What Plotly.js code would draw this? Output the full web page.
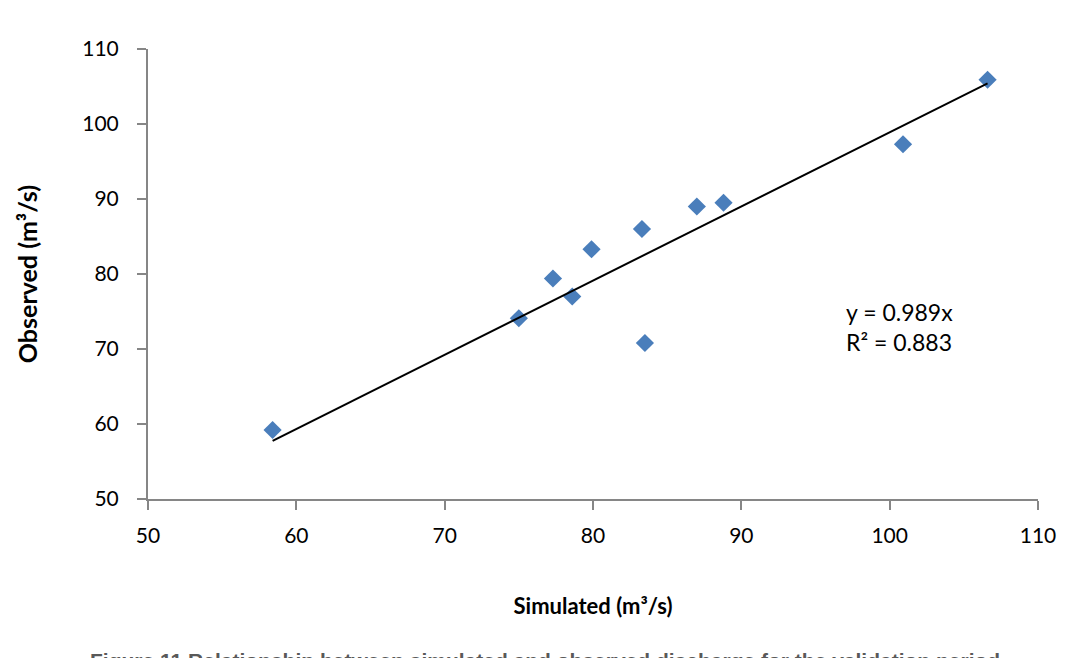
<!DOCTYPE html>
<html>
<head>
<meta charset="utf-8">
<script src="https://cdn.plot.ly/plotly-3.0.1.min.js"></script>
<style>html,body{margin:0;padding:0;background:#fff;}#chart{width:1088px;height:658px;}</style>
</head>
<body>
<div id="chart"></div>
<script>
// Data
const simulated = [58.4, 75.0, 77.3, 78.6, 79.9, 83.3, 83.5, 87.0, 88.8, 100.9, 106.6];
const observed  = [59.2, 74.1, 79.4, 77.0, 83.3, 86.0, 70.8, 89.0, 89.5, 97.3, 105.9];
const trendSlope = 0.989;
const rSquared = 0.883;
const xTicks = [50, 60, 70, 80, 90, 100, 110];
const yTicks = [50, 60, 70, 80, 90, 100, 110];
const xTitle = "Simulated (m³/s)";
const yTitle = "Observed (m³/s)";
const caption = "Figure 11 Relationship between simulated and observed discharge for the validation period";

const xmin = Math.min(...simulated), xmax = Math.max(...simulated);
const trendX = [xmin, xmax];
const trendY = trendX.map(v => trendSlope * v);

const font = "Lato, 'Open Sans', sans-serif";
const axisColor = "#868686";

const traces = [
  {
    x: simulated, y: observed, type: "scatter", mode: "markers",
    marker: {symbol: "diamond", size: 14, color: "#4a7ebb"},
    showlegend: false, hoverinfo: "x+y"
  },
  {
    x: trendX, y: trendY, type: "scatter", mode: "lines",
    line: {color: "#000", width: 2},
    showlegend: false, hoverinfo: "skip"
  }
];

const layout = {
  width: 1088, height: 658,
  paper_bgcolor: "#fff", plot_bgcolor: "#fff",
  margin: {l: 148, r: 50, t: 49, b: 159},
  font: {family: font, size: 21, color: "#000"},
  showlegend: false,
  xaxis: {
    range: [50, 110], tickvals: xTicks, ticktext: xTicks.map(String),
    showgrid: false, zeroline: false,
    showline: true, linecolor: axisColor, linewidth: 2,
    ticks: "outside", ticklen: 9, tickwidth: 1.5, tickcolor: axisColor,
    ticklabelstandoff: 8,
    tickfont: {family: font, size: 21, color: "#000"},
    title: {text: xTitle, font: {family: font, size: 22, color: "#000", weight: "bold"}, standoff: 52}
  },
  yaxis: {
    range: [50, 110], tickvals: yTicks, ticktext: yTicks.map(String),
    showgrid: false, zeroline: false,
    showline: true, linecolor: axisColor, linewidth: 2,
    ticks: "outside", ticklen: 9, tickwidth: 1.5, tickcolor: axisColor,
    ticklabelstandoff: 14,
    tickfont: {family: font, size: 21, color: "#000"},
    title: {text: yTitle, font: {family: font, size: 25, color: "#000", weight: "bold"}, standoff: 38}
  },
  annotations: [
    {
      xref: "x", yref: "y", x: 96.9, y: 72.9, xanchor: "left", yanchor: "middle",
      text: "y = " + trendSlope.toFixed(3) + "x<br>R² = " + rSquared.toFixed(3),
      showarrow: false, align: "left",
      font: {family: font, size: 23, color: "#000"}
    },
    {
      xref: "paper", yref: "paper", x: 0.446, y: -0.328, xanchor: "center", yanchor: "top",
      text: caption, showarrow: false,
      font: {family: "'Liberation Sans', Arial, sans-serif", size: 21, color: "#595959", weight: "bold"}
    }
  ]
};

Plotly.newPlot("chart", traces, layout, {displayModeBar: false, responsive: false});
</script>
</body>
</html>
